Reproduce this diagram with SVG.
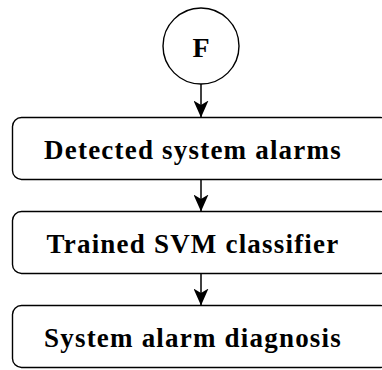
<svg xmlns="http://www.w3.org/2000/svg" width="382" height="370" viewBox="0 0 382 370">
  <style>
    .node { fill: #ffffff; stroke: #000000; stroke-width: 1.4; }
    .label { font-family: "Liberation Serif", "Times New Roman", serif; font-weight: bold; font-size: 27px; letter-spacing: 1.2px; fill: #000000; text-anchor: middle; }
    .edge { stroke: #000000; stroke-width: 1.5; fill: none; marker-end: url(#tri); }
  </style>
  <defs>
    <marker id="tri" viewBox="0 0 17 15" refX="17" refY="7.5" markerWidth="17" markerHeight="15" markerUnits="userSpaceOnUse" orient="auto">
      <path d="M0,0 L4.5,7.5 L0,15 L17,7.5 Z" fill="#000000"/>
    </marker>
  </defs>

  <g id="connectors">
    <line class="edge" x1="201" y1="84" x2="201" y2="117.5"/>
    <line class="edge" x1="201" y1="179.5" x2="201" y2="211.5"/>
    <line class="edge" x1="201" y1="273.5" x2="201" y2="305.5"/>
  </g>

  <g id="node-f">
    <circle class="node" cx="201" cy="46" r="38"/>
    <text class="label" x="201" y="56.5" style="letter-spacing:0;font-size:28px">F</text>
  </g>

  <g id="node-detected">
    <rect class="node" x="12.5" y="117.5" width="377" height="62" rx="9"/>
    <text class="label" x="193" y="159">Detected system alarms</text>
  </g>

  <g id="node-classifier">
    <rect class="node" x="12.5" y="211.5" width="377" height="62" rx="9"/>
    <text class="label" x="193" y="253">Trained SVM classifier</text>
  </g>

  <g id="node-diagnosis">
    <rect class="node" x="12.5" y="305.5" width="377" height="62" rx="9"/>
    <text class="label" x="193" y="347">System alarm diagnosis</text>
  </g>
</svg>
